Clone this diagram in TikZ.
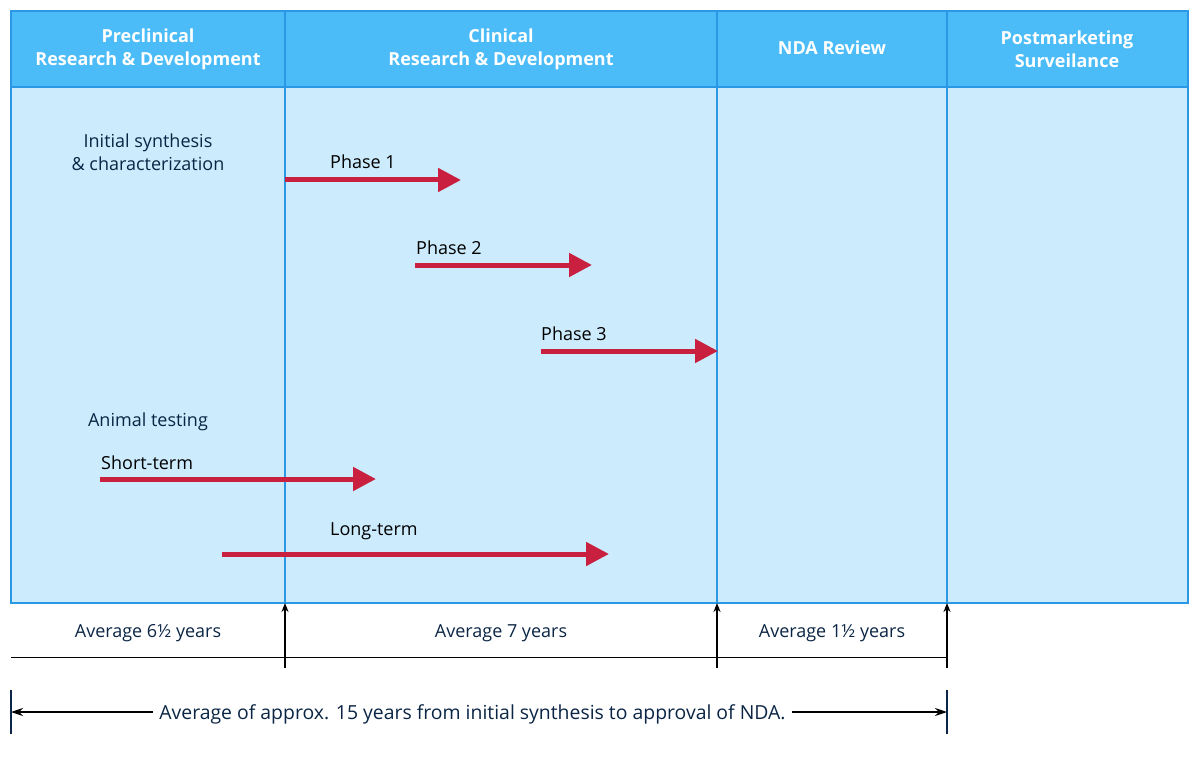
\documentclass[tikz,border=0pt]{standalone}
\usepackage{fontspec}
\setmainfont{Open Sans}
\usetikzlibrary{arrows.meta}
\definecolor{headblue}{HTML}{4BBCF8}
\definecolor{bodyblue}{HTML}{CCEBFC}
\definecolor{lineblue}{HTML}{2A98E4}
\definecolor{redarrow}{HTML}{C8203E}
\definecolor{navy}{HTML}{0B2545}
\tikzset{
  x=1pt, y=-1pt,
  head/.style={font=\fontsize{18}{23}\selectfont\bfseries, text=white, align=center, inner sep=0pt},
  body/.style={font=\fontsize{18}{23}\selectfont, text=navy, align=center, inner sep=0pt},
  phase/.style={font=\fontsize{18}{23}\selectfont, text=black, anchor=base west, inner sep=0pt},
  redarr/.style={draw=redarrow, line width=5pt, -{Triangle[length=23pt,width=23pt]}},
  divider/.style={draw=lineblue, line width=1.2pt},
  uparr/.style={draw=black, line width=1.6pt, -{Stealth[length=9pt,width=7pt]}},
  dimarr/.style={draw=black, line width=1.5pt, -{Stealth[length=12pt,width=8pt]}},
}
\begin{document}
\begin{tikzpicture}
\useasboundingbox (0,0) rectangle (1200,757);
% boxes
\fill[headblue] (11,11) rectangle (1188,87);
\fill[bodyblue] (11,87) rectangle (1188,603);
\draw[divider] (11,11) rectangle (1188,603);
\draw[divider] (11,87) -- (1188,87);
\foreach \xx in {285,717,947} \draw[divider] (\xx,11) -- (\xx,603);
% headers
\node[head] (h1) at (148,49) {Preclinical\\Research \& Development};
\node[head] (h2) at (501,49) {Clinical\\Research \& Development};
\node[head] (h3) at (832,48) {NDA Review};
\node[head] (h4) at (1067,49) {Postmarketing\\Surveilance};
% body texts
\node[body] (init) at (148,152) {Initial synthesis\\\& characterization};
\node[body] (anim) at (148,422) {Animal testing};
% phase arrows
\node[phase] (p1) at (330,168) {Phase 1};
\coordinate (p1s) at (285,180); \coordinate (p1e) at (461,180);
\draw[redarr] (p1s) -- (p1e);
\node[phase] (p2) at (416,254) {Phase 2};
\coordinate (p2s) at (415,265); \coordinate (p2e) at (592,265);
\draw[redarr] (p2s) -- (p2e);
\node[phase] (p3) at (541,340) {Phase 3};
\coordinate (p3s) at (541,351); \coordinate (p3e) at (718,351);
\draw[redarr] (p3s) -- (p3e);
\node[phase] (st) at (101,469) {Short-term};
\coordinate (sts) at (100,479); \coordinate (ste) at (376,479);
\draw[redarr] (sts) -- (ste);
\node[phase] (lt) at (330,535) {Long-term};
\coordinate (lts) at (222,554); \coordinate (lte) at (609,554);
\draw[redarr] (lts) -- (lte);
% lower area
\node[body] (a1) at (148,633) {Average 6½ years};
\node[body] (a2) at (501,633) {Average 7 years};
\node[body] (a3) at (832,633) {Average 1½ years};
\draw[black, line width=1pt] (11,657) -- (947,657);
\foreach \xx/\nm in {285/b1,717/b2,947/b3} {
  \coordinate (\nm s) at (\xx,668);
  \coordinate (\nm e) at (\xx,603);
  \draw[uparr] (\nm s) -- (\nm e);
}
\coordinate (tlt) at (11,690); \coordinate (tlb) at (11,734);
\coordinate (trt) at (947,690); \coordinate (trb) at (947,734);
\draw[navy, line width=1.2pt] (tlt) -- (tlb);
\draw[navy, line width=1.2pt] (trt) -- (trb);
\node[body, font=\fontsize{19.4}{24}\selectfont, inner xsep=6pt] (tot) at (472.5,714) {Average of approx. 15 years from initial synthesis to approval of NDA.};
\coordinate (tl) at (11,712); \coordinate (tr) at (947,712);
\draw[dimarr] (tot.west |- tl) -- (tl);
\draw[dimarr] (tot.east |- tr) -- (tr);
\end{tikzpicture}
\end{document}
